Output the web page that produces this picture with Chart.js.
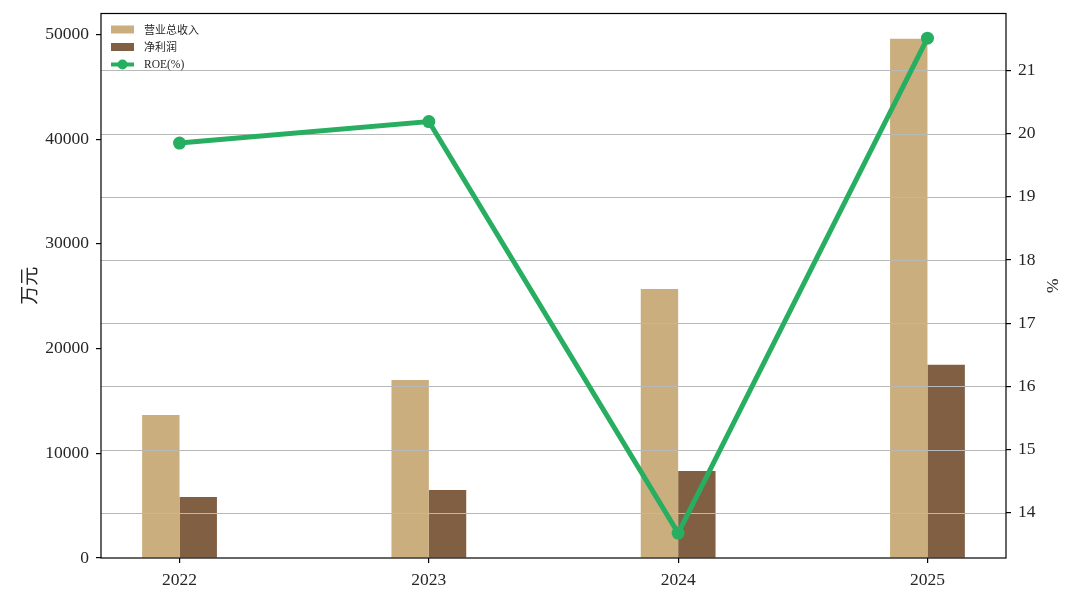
<!DOCTYPE html>
<html lang="zh">
<head>
  <meta charset="utf-8">
  <title>营业总收入 / 净利润 / ROE</title>
  <style>
    html, body { margin: 0; padding: 0; background: #fff; overflow: hidden; }
    canvas { display: block; }
  </style>
</head>
<body>
  <canvas id="myChart" width="1080" height="604"></canvas>

  <script src="https://cdn.jsdelivr.net/npm/chart.js@4.4.1/dist/chart.umd.min.js"></script>
  <script>
    // data
    var years = [2022, 2023, 2024, 2025];
    var revenue = [13650, 17000, 25700, 49600];   // 营业总收入, 万元
    var profit = [5830, 6500, 8300, 18450];        // 净利润, 万元
    var roe = [19.85, 20.19, 13.68, 21.51];        // ROE(%)
    var leftTicks = [0, 10000, 20000, 30000, 40000, 50000];
    var rightTicks = [14, 15, 16, 17, 18, 19, 20, 21];

    var serif = "'Liberation Serif', 'Noto Sans CJK SC', serif";
    var cjk = "'Noto Sans CJK SC', 'Liberation Serif', sans-serif";
    var textColor = '#262626';

    function pairs(vals) {
      return years.map(function(y, i) { return { x: y, y: vals[i] }; });
    }

    // fixed axis sizes so the plot area sits where the reference has it
    function fitWidth(w) {
      return function(s) { s.width = w; s.paddingTop = 0; s.paddingBottom = 0; };
    }

    // black frame round the plot area
    var framePlugin = {
      id: 'frame',
      afterDatasetsDraw: function(chart) {
        var a = chart.chartArea, ctx = chart.ctx;
        ctx.save();
        ctx.strokeStyle = '#000';
        ctx.lineWidth = 1.2;
        ctx.strokeRect(a.left, a.top, a.right - a.left, a.bottom - a.top);
        ctx.restore();
      }
    };

    // right-axis grid goes over the bars but under the ROE line
    var gridPlugin = {
      id: 'rightGrid',
      beforeDatasetDraw: function(chart, args) {
        if (args.meta.type !== 'line') return;
        var a = chart.chartArea, ctx = chart.ctx, s = chart.scales.y1;
        ctx.save();
        ctx.strokeStyle = '#b8b8b8';
        ctx.lineWidth = 1.2;
        s.ticks.forEach(function(t) {
          var py = Math.round(s.getPixelForValue(t.value)) + 0.5;
          ctx.beginPath();
          ctx.moveTo(a.left, py);
          ctx.lineTo(a.right, py);
          ctx.stroke();
        });
        ctx.restore();
      }
    };

    // legend in the upper-left corner of the plot
    var legendPlugin = {
      id: 'cornerLegend',
      afterDraw: function(chart) {
        var a = chart.chartArea, ctx = chart.ctx;
        var ds = chart.data.datasets;
        var x0 = a.left + 10, y0 = a.top + 16, gap = 17.5;
        ctx.save();
        ctx.textBaseline = 'middle';
        ds.forEach(function(d, i) {
          var cy = y0 + i * gap;
          if (d.type === 'line') {
            ctx.strokeStyle = d.borderColor;
            ctx.lineWidth = 4;
            ctx.beginPath();
            ctx.moveTo(x0, cy);
            ctx.lineTo(x0 + 23, cy);
            ctx.stroke();
            ctx.fillStyle = d.borderColor;
            ctx.beginPath();
            ctx.arc(x0 + 11.5, cy, 5, 0, Math.PI * 2);
            ctx.fill();
            ctx.font = '11.5px ' + serif;
          } else {
            ctx.fillStyle = d.backgroundColor;
            ctx.fillRect(x0, cy - 4, 23, 8);
            ctx.font = '11px ' + cjk;
          }
          ctx.fillStyle = textColor;
          ctx.fillText(d.label, x0 + 33, cy);
        });
        ctx.restore();
      }
    };

    var tickGrid = { drawOnChartArea: false, offset: false, color: '#000', tickLength: 5, lineWidth: 1.2 };
    var tickFont = { family: serif, size: 17.5 };

    var ctx = document.getElementById('myChart').getContext('2d');
    var chart = new Chart(ctx, {
      type: 'bar',
      data: {
        datasets: [{
          label: '营业总收入',
          data: pairs(revenue),
          backgroundColor: '#CBAE7D',
          yAxisID: 'y',
          order: 1
        }, {
          label: '净利润',
          data: pairs(profit),
          backgroundColor: '#805F43',
          yAxisID: 'y',
          order: 1
        }, {
          type: 'line',
          label: 'ROE(%)',
          data: pairs(roe),
          borderColor: '#27AE60',
          backgroundColor: '#27AE60',
          borderWidth: 5,
          pointRadius: 6.5,
          pointHoverRadius: 6.5,
          pointBorderWidth: 0,
          yAxisID: 'y1',
          order: 0
        }]
      },
      plugins: [gridPlugin, framePlugin, legendPlugin],
      options: {
        responsive: false,
        animation: false,
        devicePixelRatio: 1,
        categoryPercentage: 0.3,
        barPercentage: 1,
        layout: { padding: { top: 13.5, left: 0, right: 0, bottom: 0 } },
        plugins: {
          legend: { display: false },
          tooltip: { enabled: false }
        },
        scales: {
          x: {
            type: 'linear',
            offset: false,
            min: 2021.685,
            max: 2025.315,
            afterBuildTicks: function(s) { s.ticks = years.map(function(v) { return { value: v }; }); },
            afterFit: function(s) { s.height = 46; s.paddingLeft = 0; s.paddingRight = 0; },
            ticks: {
              color: textColor,
              font: tickFont,
              padding: 7,
              maxRotation: 0,
              callback: function(v) { return String(v); }
            },
            grid: tickGrid,
            border: { display: false }
          },
          y: {
            position: 'left',
            min: 0,
            max: 52000,
            afterBuildTicks: function(s) { s.ticks = leftTicks.map(function(v) { return { value: v }; }); },
            afterFit: fitWidth(101),
            ticks: {
              color: textColor,
              font: tickFont,
              padding: 7,
              callback: function(v) { return String(v); }
            },
            title: {
              display: true,
              text: '万元',
              color: textColor,
              font: { family: cjk, size: 19 },
              padding: { top: 17, bottom: 0 }
            },
            grid: tickGrid,
            border: { display: false }
          },
          y1: {
            position: 'right',
            min: 13.285,
            max: 21.9,
            afterBuildTicks: function(s) { s.ticks = rightTicks.map(function(v) { return { value: v }; }); },
            afterFit: fitWidth(74),
            ticks: {
              color: textColor,
              font: tickFont,
              padding: 7,
              callback: function(v) { return String(v); }
            },
            title: {
              display: true,
              text: '%',
              color: textColor,
              font: { family: serif, size: 17.5 },
              padding: { top: 18, bottom: 0 }
            },
            grid: tickGrid,
            border: { display: false }
          }
        }
      }
    });
  </script>
</body>
</html>
